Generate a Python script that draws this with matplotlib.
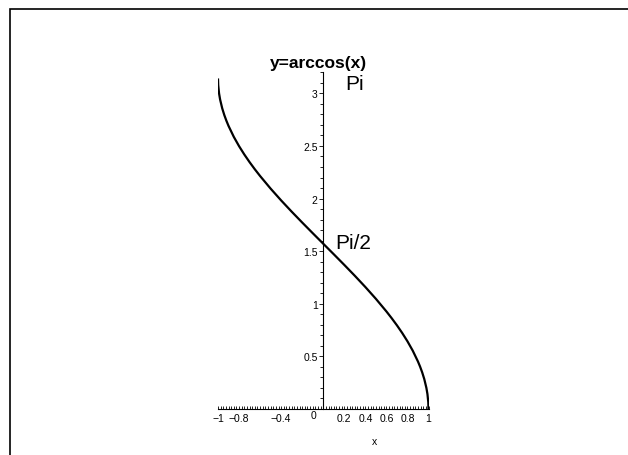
import matplotlib
matplotlib.use("Agg")
import matplotlib.pyplot as plt
from matplotlib.patches import Rectangle
from matplotlib.ticker import MultipleLocator, FixedLocator, FixedFormatter

plt.rcParams['font.family'] = ['Liberation Sans', 'DejaVu Sans']

# y = arccos(x), sampled points
x_vals = [-1.0, -0.998, -0.99, -0.98, -0.96, -0.94, -0.92, -0.9, -0.85, -0.8,
          -0.75, -0.7, -0.65, -0.6, -0.5, -0.4, -0.3, -0.2, -0.1, 0.0,
          0.1, 0.2, 0.3, 0.4, 0.5, 0.6, 0.65, 0.7, 0.75, 0.8,
          0.85, 0.9, 0.92, 0.94, 0.96, 0.98, 0.99, 0.998, 1.0]
y_vals = [3.1416, 3.0783, 3.0001, 2.9413, 2.8578, 2.7934, 2.7389, 2.6906, 2.5868, 2.4981,
          2.4189, 2.3462, 2.2782, 2.2143, 2.0944, 1.9823, 1.8755, 1.7722, 1.6710, 1.5708,
          1.4706, 1.3694, 1.2661, 1.1593, 1.0472, 0.9273, 0.8632, 0.7954, 0.7227, 0.6435,
          0.5548, 0.4510, 0.4027, 0.3482, 0.2838, 0.2003, 0.1415, 0.0633, 0.0]

x_tick_pos = [-1, -0.8, -0.6, -0.4, -0.2, 0, 0.2, 0.4, 0.6, 0.8, 1]
x_tick_lbl = ['\u22121', '\u22120.8', '', '\u22120.4', '', '', '0.2', '0.4', '0.6', '0.8', '1']
y_tick_pos = [0.5, 1, 1.5, 2, 2.5, 3]
y_tick_lbl = ['0.5', '1', '1.5', '2', '2.5', '3']

W, H = 628, 456
fig = plt.figure(figsize=(W / 100, H / 100), dpi=100)

# outer frame
fig.add_artist(Rectangle((10 / W, -0.1), 1.2, 1.1 - 10 / H, transform=fig.transFigure,
                         fill=False, edgecolor='black', linewidth=1.2))

ax = fig.add_axes([218 / W, (H - 410) / H, 210.5 / W, 336.7 / H])
ax.set_xlim(-1, 1)
ax.set_ylim(0, 3.2)
ax.set_facecolor('none')

ax.plot(x_vals, y_vals, color='black', linewidth=1.6, solid_capstyle='butt')

for s in ('top', 'right'):
    ax.spines[s].set_visible(False)
ax.spines['left'].set_position(('data', 0))
ax.spines['bottom'].set_position(('data', 0))
for s in ('left', 'bottom'):
    ax.spines[s].set_linewidth(0.8)

ax.xaxis.set_major_locator(FixedLocator(x_tick_pos))
ax.xaxis.set_major_formatter(FixedFormatter(x_tick_lbl))
ax.xaxis.set_minor_locator(MultipleLocator(0.025))
ax.yaxis.set_major_locator(FixedLocator(y_tick_pos))
ax.yaxis.set_major_formatter(FixedFormatter(y_tick_lbl))
ax.yaxis.set_minor_locator(MultipleLocator(0.1))

ax.tick_params(axis='x', which='both', direction='in', length=2.0, width=0.6,
               labelsize=7.5, pad=3)
ax.tick_params(axis='y', which='major', direction='out', length=3, width=0.6,
               labelsize=7.5, pad=1)
ax.tick_params(axis='y', which='minor', direction='out', length=2, width=0.6)

ax.text(-0.095, -0.055, '0', fontsize=7.5, ha='center', va='center', clip_on=False)
ax.text(0.49, -0.30, 'x', fontsize=7.5, ha='center', va='center', clip_on=False)
ax.text(-0.05, 3.295, 'y=arccos(x)', fontsize=12.5, fontweight='bold',
        ha='center', va='center', clip_on=False)
ax.text(0.206, 3.09, 'Pi', fontsize=15, ha='left', va='center', clip_on=False)
ax.text(0.111, 1.587, 'Pi/2', fontsize=15, ha='left', va='center', clip_on=False)

fig.savefig('out.png', dpi=100)
